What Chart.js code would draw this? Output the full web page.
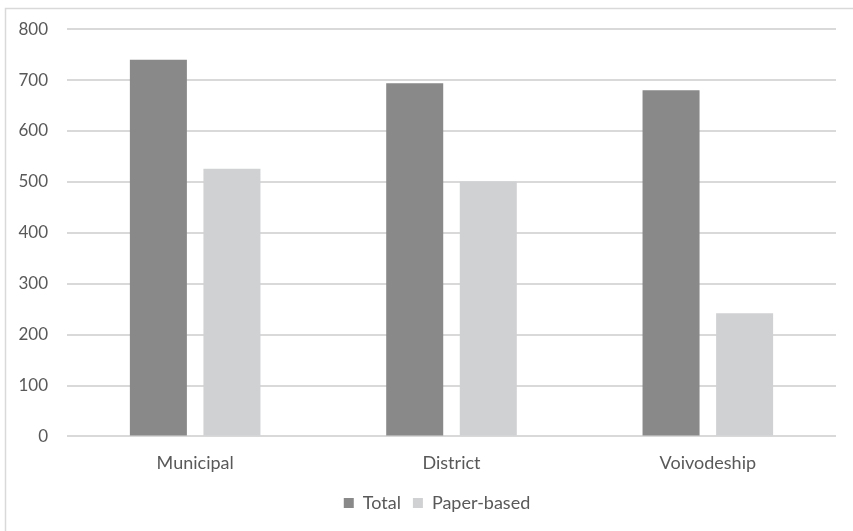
<!DOCTYPE html>
<html><head><meta charset="utf-8">
<script src="https://cdn.jsdelivr.net/npm/chart.js@4/dist/chart.umd.min.js"></script>
<style>html,body{margin:0;padding:0;background:#fff;}#wrap{width:853px;height:531px;}</style>
</head><body><div id="wrap"><canvas id="c" width="853" height="531"></canvas></div>
<script>
const categories = ["Municipal", "District", "Voivodeship"];
const totalValues = [740, 694, 680];
const paperValues = [526, 501, 242];
const yTicks = [0, 100, 200, 300, 400, 500, 600, 700, 800];

const framePlugin = {
  id: 'frame',
  afterLayout(chart) {
    // center the legend under the plot like the reference
    const lg = chart.legend;
    if (lg) { lg.left += 19; lg.right += 19; }
  },
  beforeDraw(chart) {
    const ctx = chart.ctx;
    ctx.save();
    ctx.fillStyle = '#ffffff';
    ctx.fillRect(0, 0, chart.width, chart.height);
    ctx.strokeStyle = '#d9d9d9';
    ctx.lineWidth = 1.5;
    ctx.strokeRect(5.5, 8.5, chart.width + 10, chart.height + 10);
    ctx.restore();
  }
};

new Chart(document.getElementById('c'), {
  type: 'bar',
  data: {
    labels: categories,
    datasets: [
      { label: 'Total', data: totalValues, backgroundColor: '#898989', borderWidth: 0 },
      { label: 'Paper-based', data: paperValues, backgroundColor: '#d0d1d3', borderWidth: 0 }
    ]
  },
  options: {
    responsive: false,
    animation: false,
    devicePixelRatio: 1,
    datasets: { bar: { categoryPercentage: 0.574, barPercentage: 0.775 } },
    layout: { padding: { left: 0, right: 17, top: 22, bottom: 9 } },
    plugins: {
      legend: {
        position: 'bottom',
        labels: {
          font: { family: 'Lato', size: 18 },
          color: '#595959',
          boxWidth: 10, boxHeight: 10,
          padding: 12
        }
      },
      tooltip: { enabled: false }
    },
    scales: {
      x: {
        grid: { display: false },
        border: { display: false },
        ticks: { font: { family: 'Lato', size: 18 }, color: '#595959', padding: 8 }
      },
      y: {
        min: 0, max: 800,
        afterFit(scale) { scale.width = 67; },
        afterBuildTicks(scale) { scale.ticks = yTicks.map(v => ({ value: v })); },
        grid: { color: '#d9d9d9', lineWidth: 2, drawTicks: false },
        border: { display: false },
        ticks: { font: { family: 'Lato', size: 17 }, color: '#595959', padding: 19 }
      }
    }
  },
  plugins: [framePlugin]
});
</script></body></html>
